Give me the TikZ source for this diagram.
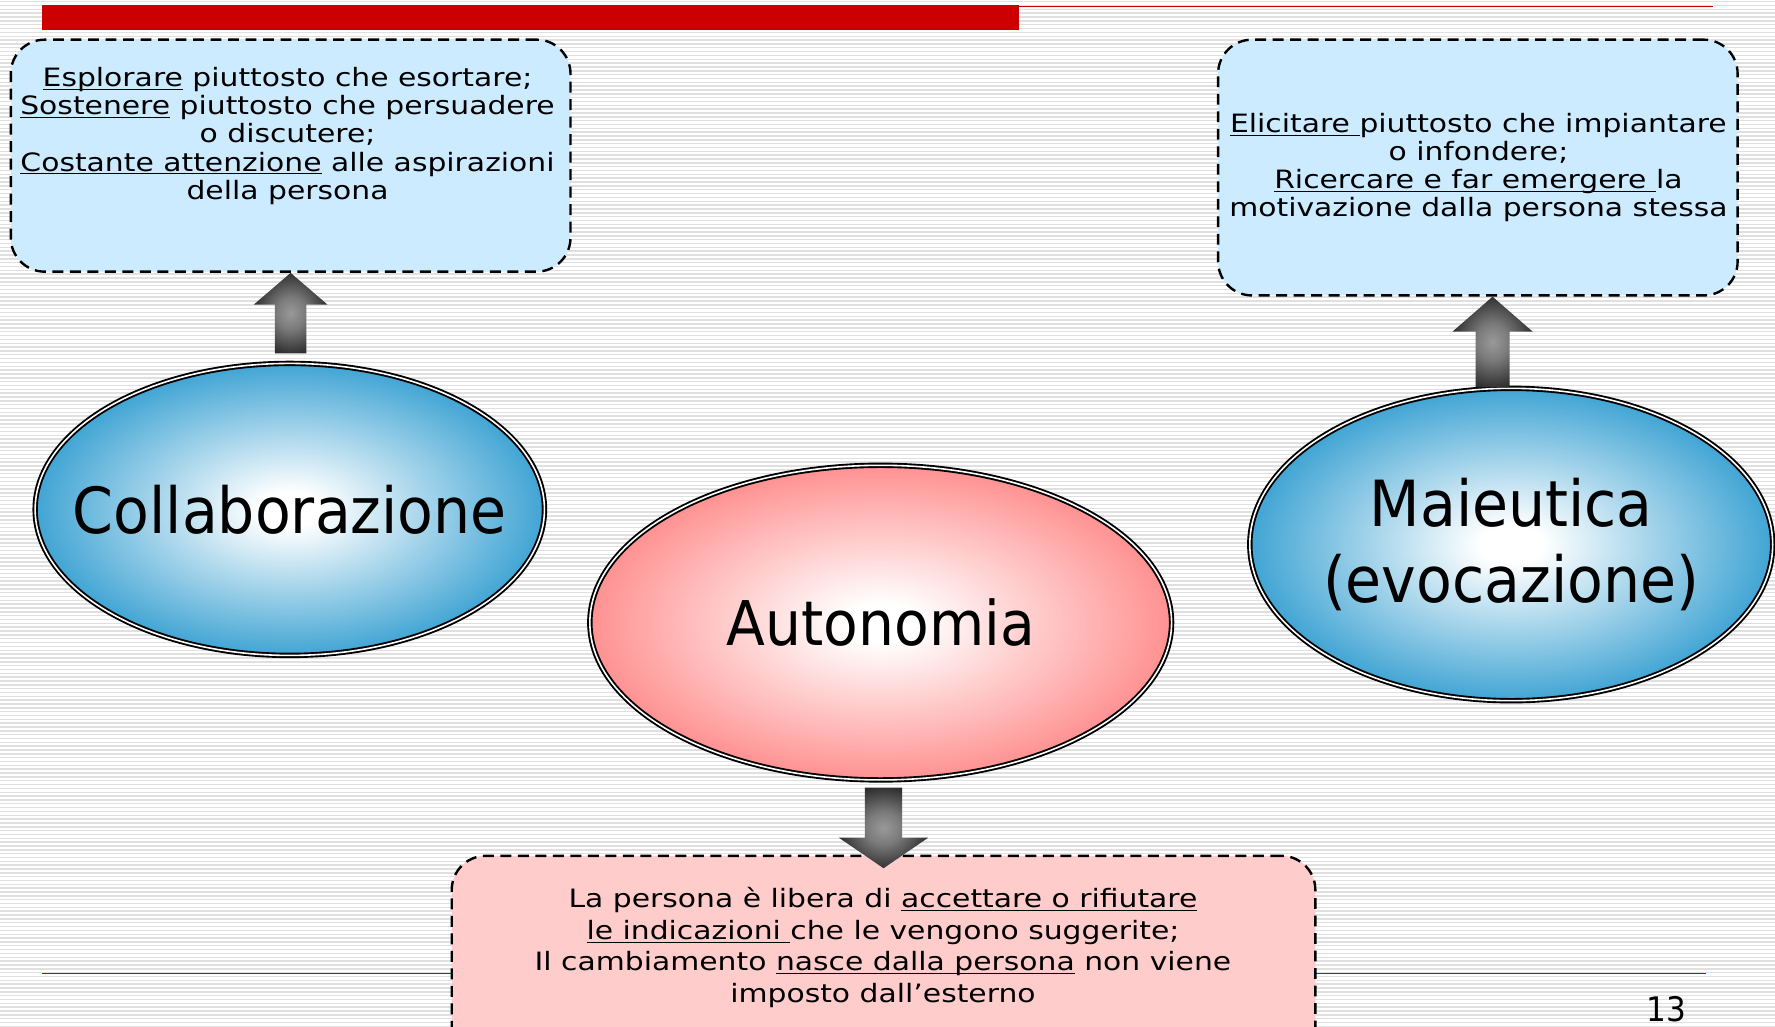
\documentclass[tikz,border=0pt]{standalone}
\usepackage{fontspec}
\usetikzlibrary{shapes.geometric,calc}
\newfontfamily\boxfont[FakeStretch=1.18]{DejaVu Sans}
\newfontfamily\ellfont[FakeStretch=0.92]{DejaVu Sans}
\definecolor{boxblue}{RGB}{204,235,255}
\definecolor{boxpink}{RGB}{255,204,204}
\definecolor{ellblue}{RGB}{30,148,204}
\definecolor{ellpink}{RGB}{255,125,125}
\definecolor{barred}{RGB}{204,0,0}
\definecolor{stripe}{RGB}{224,224,224}
\pgfdeclareradialshading{blueshade}{\pgfpointorigin}{color(0bp)=(white); color(3bp)=(white); color(29bp)=(ellblue); color(50bp)=(ellblue)}
\pgfdeclareradialshading{pinkshade}{\pgfpointorigin}{color(0bp)=(white); color(3bp)=(white); color(29bp)=(ellpink); color(50bp)=(ellpink)}
\pgfdeclareradialshading{arrowshade}{\pgfpointorigin}{color(0bp)=(black!40); color(10bp)=(black!52); color(30bp)=(black!90); color(50bp)=(black!90)}
\newcommand\uln[1]{\underline{\smash{#1}}}
\begin{document}
\begin{tikzpicture}[x=0.02cm, y=-0.02cm,
  box/.style={draw=black, line width=1.2pt, dash pattern=on 5.5pt off 3.3pt, rounded corners=0.6cm, inner sep=0pt},
  ell/.style={ellipse, draw=black, double=white, double distance=0.8pt, line width=0.95pt, inner sep=0pt},
  smalltxt/.style={align=center, inner sep=0pt, font=\boxfont\fontsize{12.7}{14.2}\selectfont},
  bigtxt/.style={align=center, inner sep=0pt, font=\ellfont\fontsize{32}{38.5}\selectfont},
  blockarrow/.style={shade, shading=arrowshade, draw=none}]
\useasboundingbox (0,0) rectangle (1568,907);
\fill[white] (0,0) rectangle (1568,907);
\foreach \i in {0,...,268} \draw[stripe, line width=0.74pt] (0,\i*3.39+1.5) -- (1568,\i*3.39+1.5);
% red header bar and rules
\fill[barred] (37,4.5) rectangle (900,26.5);
\draw[barred, line width=0.7pt] (900,5.5) -- (1513,5.5);
\draw[barred, line width=0.6pt] (37,860) -- (1507,860);
% boxes
\node[box, fill=boxblue, minimum width=9.89cm, minimum height=4.1cm] (lbox) at (256.75,137.5) {};
\node[box, fill=boxblue, minimum width=9.18cm, minimum height=4.52cm] (rbox) at (1305.5,148) {};
\node[box, fill=boxpink, minimum width=15.26cm, minimum height=3.68cm] (pbox) at (780.5,848) {};
% ellipses
\node[ell, shading=blueshade, shade, minimum width=9.0cm, minimum height=5.16cm] (collab) at (256,450) {};
\node[ell, shading=pinkshade, shade, minimum width=10.28cm, minimum height=5.56cm] (auton) at (778,550) {};
\node[ell, shading=blueshade, shade, minimum width=9.24cm, minimum height=5.52cm] (maieu) at (1335,481) {};
% ellipse texts
\node[bigtxt] (collabt) at (collab.center) {Collaborazione};
\node[bigtxt, font=\ellfont\fontsize{31}{38}\selectfont] (autont) at (auton.center) {Autonomia};
\node[bigtxt, font=\ellfont\fontsize{32}{38.5}\selectfont] (maieut) at (maieu.center) {Maieutica\\(evocazione)};
% box texts
\node[smalltxt] (lboxt) at (254,120) {\uln{Esplorare} piuttosto che esortare;\\ \uln{Sostenere} piuttosto che persuadere\\ o discutere;\\ \uln{Costante attenzione} alle aspirazioni\\ della persona};
\node[smalltxt] (rboxt) at (1306,148) {\uln{Elicitare\ }piuttosto che impiantare\\ o infondere;\\ \uln{Ricercare e far emergere\ }la\\ motivazione dalla persona stessa};
\node[smalltxt, font=\boxfont\fontsize{12.7}{15.9}\selectfont] (pboxt) at (780,837) {La persona è libera di \uln{accettare o rifiutare}\\ \uln{le indicazioni\ }che le vengono suggerite;\\ Il cambiamento \uln{nasce dalla persona} non viene\\ imposto dall’esterno};
% page number
\node[font=\ellfont\fontsize{17}{20}\selectfont, anchor=base, inner sep=0pt] (pnum) at (1472,902) {13};
% block arrows
\coordinate (lbase) at ($(lbox.south |- collab.north)+(0,-8)$);
\path[blockarrow] (lbox.south) -- ++(32.5,28) -- ++(-18.5,0) -- ($(lbase)+(14,0)$) -- ++(-28,0) -- ($(lbox.south)+(-14,28)$) -- ++(-18.5,0) -- cycle;
\coordinate (rtip) at ($(rbox.south)+(13,0)$);
\coordinate (rbase) at (rtip |- maieu.north);
\path[blockarrow] (rtip) -- ++(35.5,31) -- ++(-20.5,0) -- ($(rbase)+(15,0)$) -- ++(-30,0) -- ($(rtip)+(-15,31)$) -- ++(-20.5,0) -- cycle;
\coordinate (dtip) at ($(pbox.north)+(0,12)$);
\coordinate (dtop) at ($(dtip |- auton.south)+(0,6)$);
\path[blockarrow] (dtip) -- ++(39.5,-27) -- ++(-23,0) -- ($(dtop)+(16.5,0)$) -- ++(-33,0) -- ($(dtip)+(-16.5,-27)$) -- ++(-23,0) -- cycle;
\end{tikzpicture}
\end{document}
